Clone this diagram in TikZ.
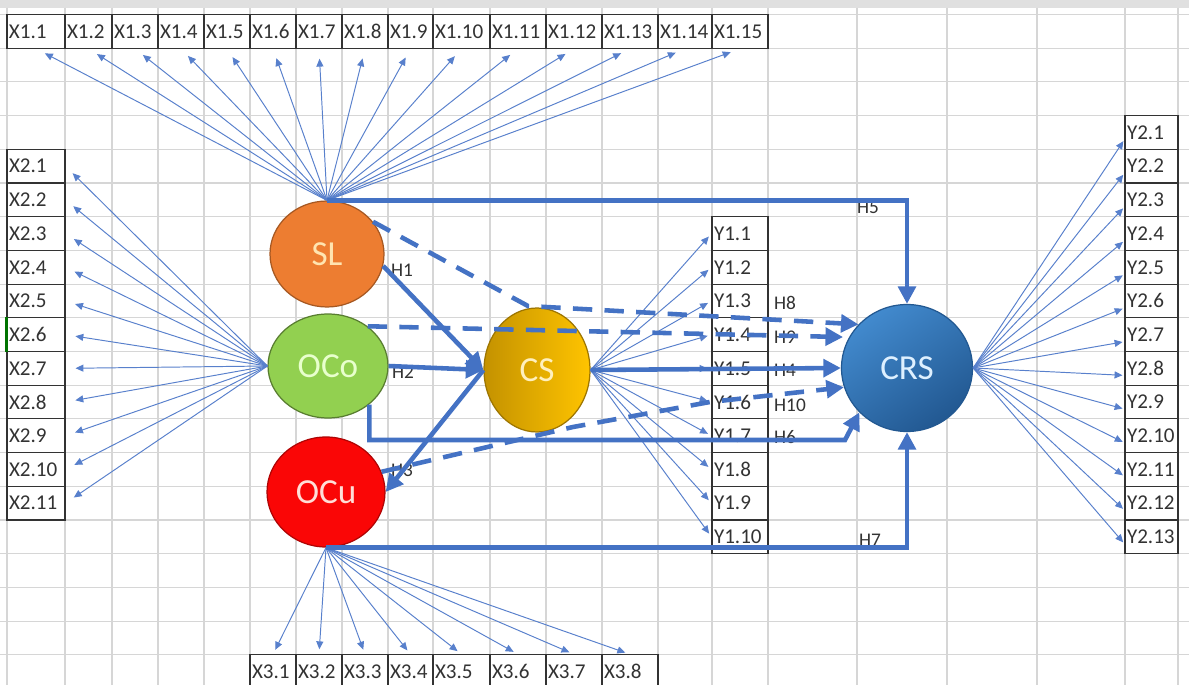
\documentclass[tikz,border=0pt]{standalone}
\usepackage{fontspec}
\setmainfont{Carlito}
\usetikzlibrary{arrows.meta, shapes.geometric}
\definecolor{arrowblue}{RGB}{68,114,196}
\definecolor{fanblue}{RGB}{88,128,204}
\definecolor{gridgray}{RGB}{214,214,214}
\definecolor{slorange}{RGB}{237,125,49}
\definecolor{ocogreen}{RGB}{146,208,80}
\definecolor{ocured}{RGB}{250,6,6}
\definecolor{csdark}{RGB}{196,146,0}
\definecolor{cslight}{RGB}{255,196,0}
\definecolor{crslight}{RGB}{66,138,206}
\definecolor{crsdark}{RGB}{34,88,145}

\begin{document}
\begin{tikzpicture}[
  x=0.02cm, y=-0.02cm,
  cell/.style={draw=black!80, line width=0.6pt, rectangle, inner xsep=0.04cm, inner ysep=0pt,
               minimum height=0.674cm, align=left, font=\fontsize{12}{14}\selectfont, text=black!80},
  latent/.style={ellipse, inner sep=0pt, line width=0.7pt, font=\fontsize{20}{23}\selectfont},
  fan/.style={-{Triangle[length=4.5pt, width=4pt]}, fanblue, line width=0.55pt},
  effect/.style={-{Triangle[length=10pt, width=10pt]}, arrowblue, line width=2.6pt},
  mediated/.style={effect, dash pattern=on 11pt off 7pt},
  hyp/.style={font=\fontsize{11}{13}\selectfont, text=black!80, inner sep=1pt},
]
  \useasboundingbox (0,0) rectangle (1189,685);
  \fill[white] (0,0) rectangle (1189,685);
  % spreadsheet grid
  \fill[black!12] (0,0) rectangle (1189,8);
  \foreach \gx in {7,65,112,158,204,250,296,342,388,433,490,546,602,658,712,768,857,947,1037,1125,1178}
    \draw[gridgray, line width=0.6pt] (\gx,8) -- (\gx,685);
  \foreach \k in {0,...,20}
    \draw[gridgray, line width=0.6pt] (0,{14.5+33.7*\k}) -- (1189,{14.5+33.7*\k});

  % indicator cells
  \foreach \i/\a/\b [evaluate=\a as \c using (\a+\b)/2, evaluate=\a as \w using (\b-\a)*0.02-0.08] in
    {1/7/65, 2/65/112, 3/112/158, 4/158/204, 5/204/250, 6/250/296, 7/296/342, 8/342/388,
     9/388/433, 10/433/490, 11/490/546, 12/546/602, 13/602/658, 14/658/712, 15/712/768}
    \node[cell, text width=\w cm] (x1-\i) at (\c,31.35) {X1.\i};
  \foreach \i in {1,...,11}
    \node[cell, text width=1.08cm] (x2-\i) at (36,{166.15+33.7*(\i-1)}) {X2.\i};
  \draw[green!45!black, line width=1.2pt] (x2-6.north west) -- (x2-6.south west);
  \foreach \i/\a/\b [evaluate=\a as \c using (\a+\b)/2, evaluate=\a as \w using (\b-\a)*0.02-0.08] in
    {1/250/296, 2/296/342, 3/342/388, 4/388/433, 5/433/490, 6/490/546, 7/546/602, 8/602/658}
    \node[cell, text width=\w cm] (x3-\i) at (\c,671.65) {X3.\i};
  \foreach \i in {1,...,10}
    \node[cell, text width=1.04cm] (y1-\i) at (740,{233.55+33.7*(\i-1)}) {Y1.\i};
  \foreach \i in {1,...,13}
    \node[cell, text width=0.98cm] (y2-\i) at (1151.5,{132.45+33.7*(\i-1)}) {Y2.\i};

  % latent variables
  \node[latent, fill=slorange, draw=slorange!70!black, text={rgb,255:red,255;green,228;blue,176},
        minimum width=2.28cm, minimum height=2.12cm] (sl) at (327,254) {SL};
  \node[latent, fill=ocogreen, draw=ocogreen!60!black, text={rgb,255:red,232;green,255;blue,205},
        minimum width=2.4cm, minimum height=2.08cm] (oco) at (328,366) {OCo};
  \node[latent, fill=ocured, draw=ocured!70!black, text={rgb,255:red,255;green,222;blue,215},
        minimum width=2.36cm, minimum height=2.2cm] (ocu) at (326,492) {OCu};
  \node[latent, left color=csdark, right color=cslight, draw=csdark!80!black,
        text={rgb,255:red,255;green,240;blue,190},
        minimum width=2.12cm, minimum height=2.48cm] (cs) at (537,370) {CS};
  \node[latent, top color=crslight, bottom color=crsdark, shading angle=35, draw=crsdark,
        text={rgb,255:red,222;green,240;blue,255},
        minimum width=2.62cm, minimum height=2.54cm] (crs) at (907,368) {CRS};

  % hypothesis labels
  \node[hyp] (h1) at (402,270) {H1};
  \node[hyp] (h2) at (403,372) {H2};
  \node[hyp] (h3) at (402,470) {H3};
  \node[hyp] (h5) at (868,207) {H5};
  \node[hyp] (h7) at (870,540) {H7};
  \node[hyp] (h8) at (785,303) {H8};
  \node[hyp] (h9) at (785,337) {H9};
  \node[hyp] (h4) at (785,370) {H4};
  \node[hyp] (h10) at (790,405) {H10};
  \node[hyp] (h6) at (785,437) {H6};

  % loadings
  \foreach \i in {1,...,15}
    \draw[fan, shorten >=0.2cm] (sl.north) -- (x1-\i.south);
  \foreach \i in {1,...,11}
    \draw[fan, shorten >=0.2cm] (oco.west) -- (x2-\i.east);
  \foreach \i in {1,...,8}
    \draw[fan, shorten >=0.1cm] (ocu.south) -- (x3-\i.north);
  \foreach \i in {1,...,10}
    \draw[fan, shorten >=0.08cm] (cs.east) -- (y1-\i.west);
  \foreach \i in {1,...,13}
    \draw[fan, shorten >=0.04cm] (crs.east) -- ([yshift=-4pt]y2-\i.west);

  % structural paths
  \coordinate (h6c) at (845,440);
  \coordinate (h8c) at (528,306);
  \coordinate (h10a) at (573,427);
  \coordinate (h10b) at (710,402);
  \draw[effect] (sl.-12) -- (cs.west);
  \draw[effect] (oco.east) -- (cs.west);
  \draw[effect] (cs.west) -- (ocu.east);
  \draw[effect] (cs.east) -- (crs.west);
  \draw[effect] (sl.north) -| (crs.north);
  \draw[effect] (ocu.south) -| (crs.south);
  \draw[effect] (oco.-43) |- (h6c) -- (crs.223);
  \draw[mediated] (sl.35) -- (h8c) -- (crs.138);
  \draw[mediated, shorten >=0.12cm] (oco.45) -- (crs.152);
  \draw[mediated] (ocu.20) -- (h10a) -- (h10b) -- (crs.197);
\end{tikzpicture}
\end{document}
